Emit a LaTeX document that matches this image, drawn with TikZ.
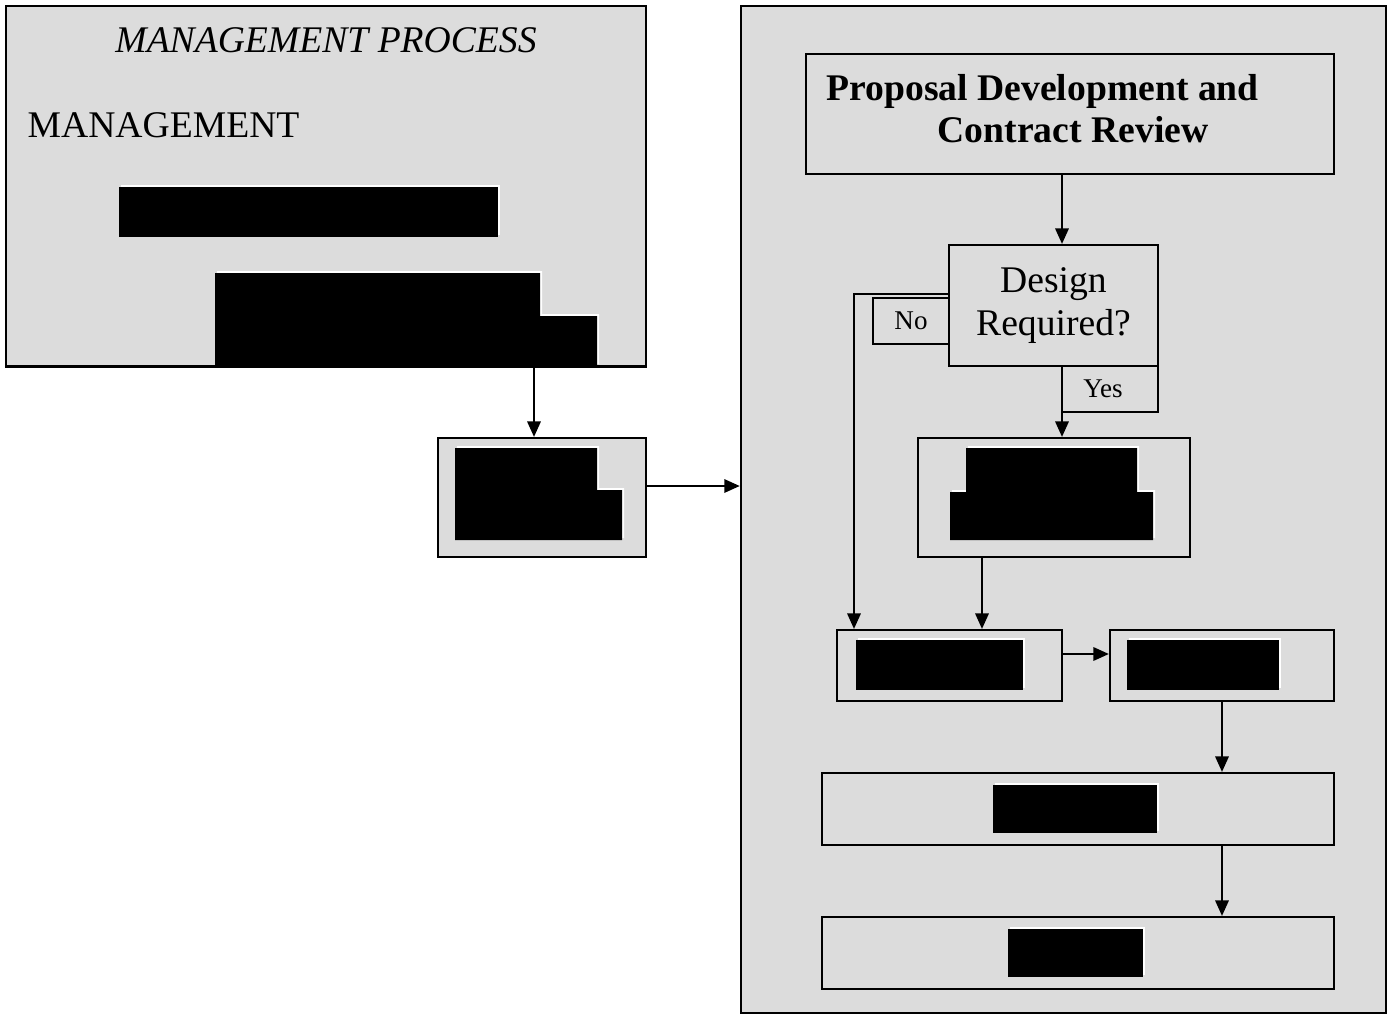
\documentclass[tikz,border=0pt]{standalone}
\usepackage{fontspec}
\setmainfont{Liberation Serif}
\usetikzlibrary{arrows.meta}
\definecolor{boxgray}{RGB}{220,220,220}
\tikzset{
    box/.style={draw,fill=boxgray,line width=0.6pt,inner sep=0pt},
    arr/.style={line width=0.6pt,-{Triangle[length=4.4pt,width=3.8pt]}},
    lbl/.style={inner sep=0pt,font=\fontsize{10.7}{12.2}\selectfont},
    redact/.style={fill=black},
    halo/.style={fill=white,xshift=0.02cm,yshift=0.02cm}
}
\begin{document}
\begin{tikzpicture}[x=0.01cm,y=-0.01cm]
                \useasboundingbox (0,0) rectangle (1393,1015);
                % left side
                \node [box,minimum width=6.40cm,minimum height=3.60cm] (mgmt) at (326,186) {};
                \node [lbl,anchor=base,font=\fontsize{10.7}{12.2}\selectfont\itshape] (mgmttitle) at (326,52) {MANAGEMENT PROCESS};
                \node [lbl,anchor=base west] (mgmtname) at (27,137) {MANAGEMENT};
                \node [box,minimum width=2.08cm,minimum height=1.19cm] (mgmtout) at (542,497.5) {};
                % right side
                \node [box,minimum width=6.45cm,minimum height=10.07cm] (dept) at (1063.5,509.5) {};
                \node [box,minimum width=5.28cm,minimum height=1.20cm] (proposal) at (1070,114) {};
                \node [lbl,anchor=base west,align=left,font=\fontsize{10.7}{12.2}\selectfont\bfseries] (proptxt) at (826,143) {Proposal Development and\\\hspace*{31.6pt}Contract Review};
                \node [box,lbl,align=center,minimum width=2.09cm,minimum height=1.21cm] (design) at (1053.5,305.5) {Design\\Required?};
                \node [box,lbl,font=\fontsize{7.7}{9}\selectfont,minimum width=0.76cm,minimum height=0.46cm] (nobox) at (911,321) {No};
                \node [box,lbl,font=\fontsize{7.7}{9}\selectfont,minimum width=0.96cm,minimum height=0.46cm] (yesbox) at (1110,389) {\hspace*{-4pt}Yes};
                \node [box,minimum width=2.72cm,minimum height=1.19cm] (designbox) at (1054,497.5) {};
                \node [box,minimum width=2.25cm,minimum height=0.71cm] (stepa) at (949.5,665.5) {};
                \node [box,minimum width=2.24cm,minimum height=0.71cm] (stepb) at (1222,665.5) {};
                \node [box,minimum width=5.12cm,minimum height=0.72cm] (stepc) at (1078,809) {};
                \node [box,minimum width=5.12cm,minimum height=0.72cm] (stepd) at (1078,953) {};
                % connectors
                \draw [arr] (534,0 |- mgmt.south) -- (534,0 |- mgmtout.north);
                \draw [arr] (0,486 -| mgmtout.east) -- (0,486 -| dept.west);
                \draw [arr] (1062,0 |- proposal.south) -- (1062,0 |- design.north);
                \draw [arr] (1062,0 |- design.south) -- (1062,0 |- designbox.north);
                \draw [arr] (0,294 -| design.west) -- (854,294) -- (854,0 |- stepa.north);
                \draw [arr] (982,0 |- designbox.south) -- (982,0 |- stepa.north);
                \draw [arr] (0,654 -| stepa.east) -- (0,654 -| stepb.west);
                \draw [arr] (stepb.south) -- (1222,0 |- stepc.north);
                \draw [arr] (1222,0 |- stepc.south) -- (1222,0 |- stepd.north);
                % blacked-out texts
                \foreach \s in {halo,redact} {
                    \path [\s] (119,187) rectangle (498,237);
                    \path [\s] (215,273) -- (540,273) -- (540,316) -- (597,316) -- (597,366) -- (215,366) -- cycle;
                    \path [\s] (455,448) -- (597,448) -- (597,490) -- (622,490) -- (622,540) -- (455,540) -- cycle;
                    \path [\s] (966,448) -- (1137,448) -- (1137,492) -- (1153,492) -- (1153,540) -- (950,540) -- (950,492) -- (966,492) -- cycle;
                    \path [\s] (856,640) rectangle (1023,690);
                    \path [\s] (1127,640) rectangle (1279,690);
                    \path [\s] (993,785) rectangle (1157,833);
                    \path [\s] (1008,929) rectangle (1143,977);
                }
                \draw [line width=0.6pt] (mgmt.south west) -- (mgmt.south east);
\end{tikzpicture}
\end{document}
